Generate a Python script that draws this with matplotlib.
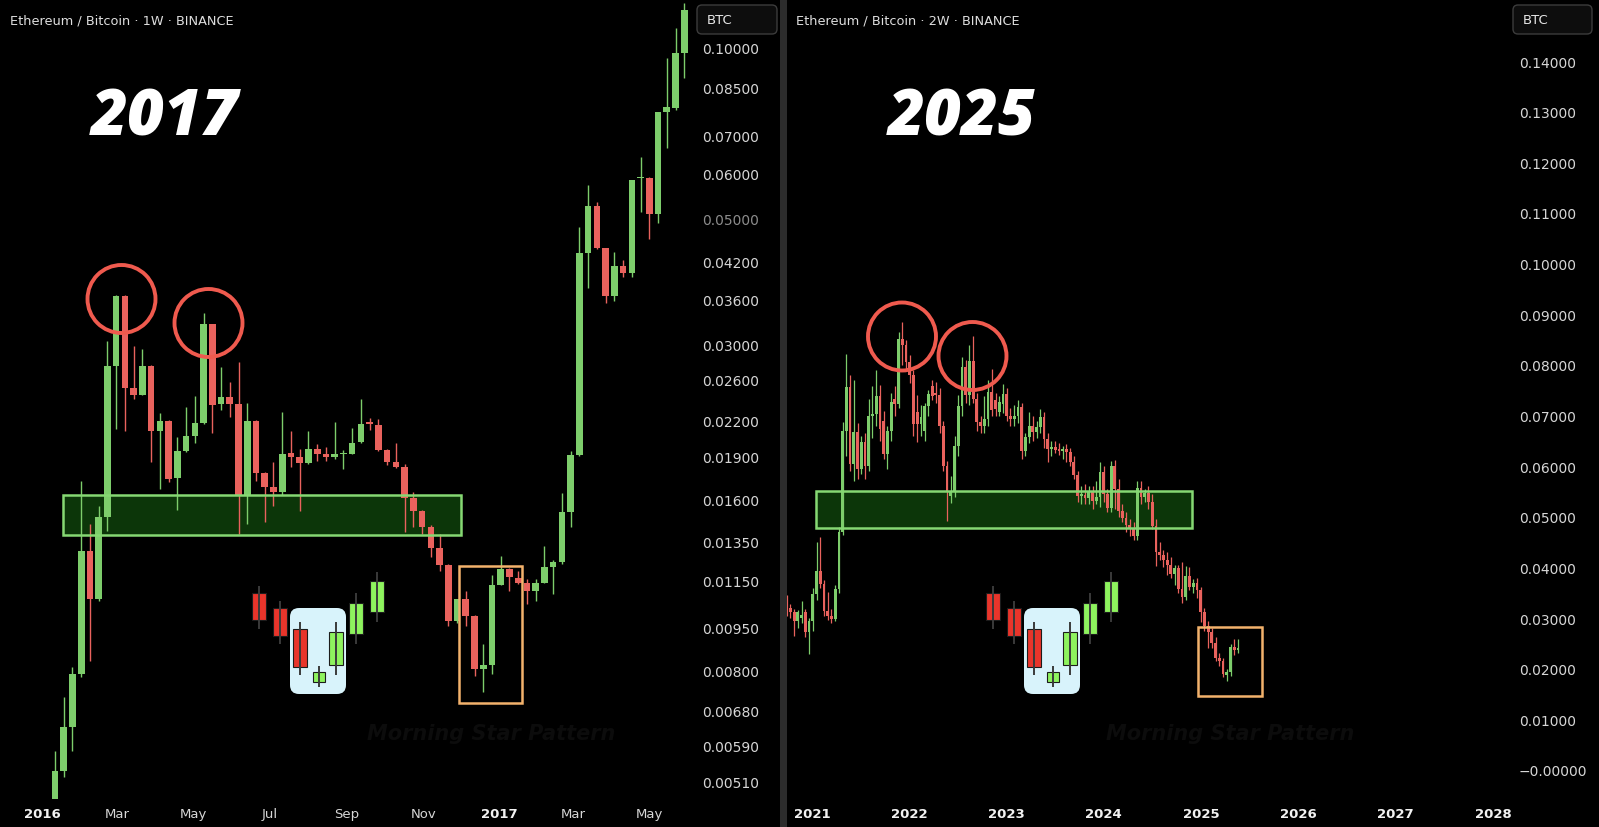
import numpy as np
import pandas as pd
import matplotlib
matplotlib.use("Agg")
import matplotlib.pyplot as plt
import matplotlib.dates as mdates
from matplotlib.patches import Rectangle, FancyBboxPatch, Circle
from matplotlib.ticker import NullLocator

plt.rcParams['font.family'] = ['DejaVu Sans']

# ---------------- LEFT: ETH/BTC 1W (2016-2017), log price scale ----------------
L_START = "2016-01-11"
L_open = [0.00470, 0.00531, 0.00635, 0.00787, 0.01297, 0.01069, 0.01487, 0.02752, 0.03644, 0.02517,
          0.02447, 0.02752, 0.02113, 0.02200, 0.01742, 0.01947, 0.02071, 0.02183, 0.03253, 0.02357,
          0.02425, 0.02357, 0.01620, 0.02200, 0.01781, 0.01680, 0.01646, 0.01931, 0.01900, 0.01854,
          0.01963, 0.01923, 0.01900, 0.01923, 0.01923, 0.02020, 0.02191, 0.02165, 0.01955, 0.01862,
          0.01826, 0.01606, 0.01524, 0.01432, 0.01312, 0.01227, 0.00977, 0.01069, 0.00997, 0.00803,
          0.00816, 0.01131, 0.01207, 0.01165, 0.01141, 0.01104, 0.01141, 0.01217, 0.01242, 0.01518,
          0.01916, 0.04339, 0.05250, 0.04427, 0.03644, 0.04116, 0.04000, 0.05880, 0.05880, 0.05082,
          0.07684, 0.07815, 0.09760]
L_high = [0.00576, 0.00717, 0.00810, 0.01721, 0.01446, 0.01555, 0.03037, 0.03670, 0.03660, 0.02976,
          0.02940, 0.02760, 0.02272, 0.02210, 0.02060, 0.02329, 0.02437, 0.03402, 0.03260, 0.02741,
          0.02579, 0.02797, 0.02367, 0.02210, 0.01790, 0.01862, 0.02282, 0.02113, 0.01963, 0.02113,
          0.02003, 0.01978, 0.02190, 0.01955, 0.02138, 0.02408, 0.02227, 0.02218, 0.01960, 0.02013,
          0.01850, 0.01646, 0.01530, 0.01440, 0.01389, 0.01230, 0.01070, 0.01104, 0.01000, 0.00889,
          0.01178, 0.01270, 0.01210, 0.01198, 0.01159, 0.01160, 0.01323, 0.01250, 0.01639, 0.01947,
          0.04821, 0.05715, 0.05340, 0.04430, 0.04357, 0.04217, 0.05840, 0.06402, 0.05900, 0.07700,
          0.09564, 0.10800, 0.11950]
L_low = [0.00460, 0.00520, 0.00576, 0.00778, 0.00830, 0.01060, 0.01406, 0.02130, 0.02110, 0.02408,
         0.02440, 0.01862, 0.01666, 0.01720, 0.01530, 0.01940, 0.02013, 0.02170, 0.02090, 0.02298,
         0.02236, 0.01389, 0.01446, 0.01721, 0.01458, 0.01555, 0.01630, 0.01826, 0.01524, 0.01850,
         0.01870, 0.01870, 0.01885, 0.01811, 0.01920, 0.02010, 0.02121, 0.01950, 0.01839, 0.01818,
         0.01400, 0.01429, 0.01389, 0.01265, 0.01198, 0.00958, 0.00970, 0.00958, 0.00781, 0.00734,
         0.00787, 0.01130, 0.01104, 0.01137, 0.01048, 0.01060, 0.01140, 0.01091, 0.01230, 0.01432,
         0.01910, 0.03764, 0.04420, 0.03550, 0.03570, 0.03940, 0.03940, 0.05123, 0.04592, 0.04900,
         0.06641, 0.07750, 0.08820]
L_close = [0.00531, 0.00635, 0.00787, 0.01297, 0.01069, 0.01487, 0.02752, 0.03644, 0.02517, 0.02447,
           0.02752, 0.02113, 0.02200, 0.01735, 0.01947, 0.02071, 0.02183, 0.03253, 0.02347, 0.02425,
           0.02357, 0.01620, 0.02200, 0.01781, 0.01680, 0.01646, 0.01923, 0.01900, 0.01854, 0.01963,
           0.01923, 0.01900, 0.01923, 0.01931, 0.02013, 0.02173, 0.02173, 0.01955, 0.01862, 0.01826,
           0.01606, 0.01524, 0.01432, 0.01312, 0.01227, 0.00977, 0.01069, 0.00997, 0.00803, 0.00816,
           0.01131, 0.01207, 0.01169, 0.01141, 0.01104, 0.01141, 0.01217, 0.01242, 0.01518, 0.01916,
           0.04339, 0.05250, 0.04427, 0.03644, 0.04116, 0.04000, 0.05832, 0.05900, 0.05082, 0.07684,
           0.07847, 0.09760, 0.11620]
L_yticks = [0.1, 0.085, 0.07, 0.06, 0.05, 0.042, 0.036, 0.03, 0.026, 0.022, 0.019,
            0.016, 0.0135, 0.0115, 0.0095, 0.008, 0.0068, 0.0059, 0.0051]
L_xtick_dates = ["2016-01-01", "2016-03-01", "2016-05-01", "2016-07-01", "2016-09-01",
                 "2016-11-01", "2017-01-01", "2017-03-01", "2017-05-01"]
L_xtick_labels = ["2016", "Mar", "May", "Jul", "Sep", "Nov", "2017", "Mar", "May"]
L_zone = (0.01385, 0.01628)      # support zone (price)
L_box = (0.00700, 0.01220)       # highlighted pattern box (price)

# ---------------- RIGHT: ETH/BTC 2W (2020-2025), linear price scale ----------------
R_START = "2020-09-28"
R_open = [0.0334, 0.0320, 0.0312, 0.0294, 0.0300, 0.0312, 0.0273, 0.0294, 0.0348, 0.0393,
          0.0367, 0.0314, 0.0305, 0.0298, 0.0357, 0.0470, 0.0670, 0.0756, 0.0604, 0.0667,
          0.0594, 0.0648, 0.0600, 0.0699, 0.0703, 0.0739, 0.0690, 0.0624, 0.0669, 0.0733,
          0.0722, 0.0851, 0.0840, 0.0806, 0.0780, 0.0707, 0.0683, 0.0669, 0.0719, 0.0758,
          0.0745, 0.0740, 0.0680, 0.0600, 0.0541, 0.0549, 0.0640, 0.0719, 0.0796, 0.0740,
          0.0808, 0.0733, 0.0687, 0.0680, 0.0693, 0.0747, 0.0730, 0.0707, 0.0722, 0.0742,
          0.0700, 0.0693, 0.0700, 0.0716, 0.0630, 0.0657, 0.0680, 0.0667, 0.0677, 0.0697,
          0.0654, 0.0634, 0.0637, 0.0632, 0.0629, 0.0634, 0.0628, 0.0608, 0.0582, 0.0541,
          0.0543, 0.0537, 0.0548, 0.0532, 0.0540, 0.0589, 0.0545, 0.0517, 0.0600, 0.0555,
          0.0512, 0.0497, 0.0483, 0.0478, 0.0462, 0.0557, 0.0539, 0.0547, 0.0530, 0.0482,
          0.0430, 0.0425, 0.0415, 0.0405, 0.0388, 0.0398, 0.0358, 0.0342, 0.0383, 0.0362,
          0.0370, 0.0355, 0.0312, 0.0285, 0.0272, 0.0250, 0.0222, 0.0215, 0.0188, 0.0193,
          0.0243, 0.0236]
R_high = [0.0345, 0.0328, 0.0318, 0.0315, 0.0334, 0.0318, 0.0300, 0.0360, 0.0450, 0.0460,
          0.0375, 0.0352, 0.0318, 0.0365, 0.0480, 0.0687, 0.0821, 0.0780, 0.0770, 0.0685,
          0.0660, 0.0665, 0.0733, 0.0758, 0.0790, 0.0760, 0.0709, 0.0680, 0.0745, 0.0758,
          0.0865, 0.0885, 0.0850, 0.0820, 0.0790, 0.0740, 0.0720, 0.0725, 0.0750, 0.0770,
          0.0766, 0.0755, 0.0690, 0.0610, 0.0580, 0.0660, 0.0740, 0.0815, 0.0810, 0.0840,
          0.0857, 0.0745, 0.0700, 0.0739, 0.0770, 0.0792, 0.0745, 0.0738, 0.0762, 0.0755,
          0.0715, 0.0720, 0.0730, 0.0725, 0.0665, 0.0707, 0.0700, 0.0690, 0.0712, 0.0707,
          0.0665, 0.0650, 0.0650, 0.0645, 0.0640, 0.0644, 0.0635, 0.0620, 0.0590, 0.0560,
          0.0565, 0.0560, 0.0560, 0.0570, 0.0608, 0.0600, 0.0555, 0.0610, 0.0612, 0.0575,
          0.0525, 0.0510, 0.0495, 0.0490, 0.0571, 0.0570, 0.0555, 0.0560, 0.0545, 0.0496,
          0.0450, 0.0435, 0.0430, 0.0420, 0.0405, 0.0405, 0.0410, 0.0403, 0.0401, 0.0378,
          0.0380, 0.0362, 0.0320, 0.0295, 0.0280, 0.0262, 0.0232, 0.0222, 0.0200, 0.0248,
          0.0259, 0.0258]
R_low = [0.0305, 0.0300, 0.0265, 0.0280, 0.0290, 0.0262, 0.0229, 0.0275, 0.0335, 0.0360,
         0.0305, 0.0296, 0.0290, 0.0295, 0.0350, 0.0465, 0.0620, 0.0590, 0.0570, 0.0575,
         0.0585, 0.0575, 0.0590, 0.0655, 0.0680, 0.0650, 0.0615, 0.0595, 0.0650, 0.0700,
         0.0715, 0.0800, 0.0790, 0.0765, 0.0660, 0.0648, 0.0660, 0.0650, 0.0700, 0.0730,
         0.0725, 0.0665, 0.0590, 0.0492, 0.0528, 0.0540, 0.0620, 0.0700, 0.0725, 0.0720,
         0.0725, 0.0670, 0.0665, 0.0665, 0.0680, 0.0700, 0.0700, 0.0700, 0.0705, 0.0690,
         0.0679, 0.0680, 0.0685, 0.0615, 0.0620, 0.0645, 0.0650, 0.0655, 0.0665, 0.0635,
         0.0608, 0.0620, 0.0625, 0.0622, 0.0615, 0.0608, 0.0600, 0.0575, 0.0530, 0.0525,
         0.0525, 0.0525, 0.0515, 0.0525, 0.0520, 0.0530, 0.0510, 0.0510, 0.0515, 0.0500,
         0.0490, 0.0470, 0.0462, 0.0455, 0.0455, 0.0525, 0.0530, 0.0515, 0.0475, 0.0403,
         0.0415, 0.0400, 0.0385, 0.0380, 0.0365, 0.0350, 0.0330, 0.0335, 0.0355, 0.0350,
         0.0340, 0.0292, 0.0275, 0.0240, 0.0240, 0.0215, 0.0205, 0.0184, 0.0176, 0.0185,
         0.0228, 0.0232]
R_close = [0.0320, 0.0312, 0.0294, 0.0312, 0.0306, 0.0273, 0.0294, 0.0348, 0.0393, 0.0367,
           0.0314, 0.0305, 0.0298, 0.0357, 0.0470, 0.0670, 0.0756, 0.0604, 0.0667, 0.0594,
           0.0648, 0.0600, 0.0699, 0.0703, 0.0739, 0.0673, 0.0624, 0.0669, 0.0727, 0.0722,
           0.0851, 0.0840, 0.0806, 0.0780, 0.0683, 0.0683, 0.0697, 0.0719, 0.0742, 0.0739,
           0.0740, 0.0680, 0.0600, 0.0549, 0.0549, 0.0640, 0.0719, 0.0796, 0.0740, 0.0808,
           0.0733, 0.0687, 0.0680, 0.0693, 0.0747, 0.0710, 0.0713, 0.0727, 0.0742, 0.0700,
           0.0693, 0.0700, 0.0716, 0.0630, 0.0657, 0.0680, 0.0667, 0.0677, 0.0697, 0.0654,
           0.0634, 0.0637, 0.0632, 0.0629, 0.0634, 0.0628, 0.0608, 0.0582, 0.0541, 0.0543,
           0.0537, 0.0548, 0.0532, 0.0540, 0.0589, 0.0545, 0.0517, 0.0600, 0.0555, 0.0512,
           0.0497, 0.0483, 0.0478, 0.0462, 0.0557, 0.0539, 0.0547, 0.0530, 0.0482, 0.0430,
           0.0425, 0.0415, 0.0405, 0.0388, 0.0398, 0.0358, 0.0342, 0.0383, 0.0362, 0.0370,
           0.0355, 0.0312, 0.0285, 0.0272, 0.0250, 0.0222, 0.0215, 0.0190, 0.0193, 0.0243,
           0.0236, 0.0238]
R_yticks = [0.00, 0.01, 0.02, 0.03, 0.04, 0.05, 0.06, 0.07, 0.08, 0.09, 0.10, 0.11, 0.12, 0.13, 0.14]
R_xtick_dates = ["2021-01-01", "2022-01-01", "2023-01-01", "2024-01-01",
                 "2025-01-01", "2026-01-01", "2027-01-01", "2028-01-01"]
R_xtick_labels = ["2021", "2022", "2023", "2024", "2025", "2026", "2027", "2028"]
R_zone = (0.0478, 0.0551)
R_box = (0.0146, 0.0282)

# ---------------- figure ----------------
W, H = 1599, 828
fig = plt.figure(figsize=(W / 100, H / 100), dpi=100)
fig.patch.set_facecolor("black")

UP = "#7dcd6b"
DN = "#e9625d"


def frac(x0, x1, y0, y1):
    return [x0 / W, 1 - y1 / H, (x1 - x0) / W, (y1 - y0) / H]


def draw_candles(ax, dates, o, h, l, c, width, wick_lw, log):
    x = mdates.date2num(dates)
    o = np.asarray(o); h = np.asarray(h); l = np.asarray(l); c = np.asarray(c)
    cols = np.where(c >= o, UP, DN)
    ax.vlines(x, l, h, colors=cols, linewidth=wick_lw, zorder=3)
    bot = np.minimum(o, c)
    top = np.maximum(o, c)
    top = np.maximum(top, bot * 1.004) if log else np.maximum(top, bot + 0.0004)
    ax.bar(x, top - bot, bottom=bot, width=width, color=cols, linewidth=0, zorder=4)


def style_axis(ax):
    ax.set_facecolor("black")
    for s in ax.spines.values():
        s.set_visible(False)
    ax.yaxis.tick_right()
    ax.tick_params(axis="y", which="both", length=0, pad=5, labelsize=10, labelcolor="#d6d6d6")
    ax.tick_params(axis="x", which="both", length=0, pad=6, labelsize=9.5, labelcolor="#d6d6d6")


# Left panel
axL = fig.add_axes(frac(0, 695, 0, 800))
style_axis(axL)
axL.set_yscale("log")
l0 = mdates.date2num(pd.Timestamp(L_START))
axL.set_xlim(l0 - 44.05, l0 + 512.6)
axL.set_ylim(0.004749, 0.12164)
L_dates = pd.date_range(L_START, periods=len(L_open), freq="7D")
draw_candles(axL, L_dates, L_open, L_high, L_low, L_close, 5.3, 1.0, True)
axL.set_yticks(L_yticks, labels=[f"{v:.5f}" for v in L_yticks])
axL.yaxis.set_minor_locator(NullLocator())
for t, v in zip(axL.get_yticklabels(), L_yticks):
    if v == 0.05:
        t.set_color("#8c8c8c")
axL.set_xticks(mdates.date2num(pd.to_datetime(L_xtick_dates)), labels=L_xtick_labels)
for t in axL.get_xticklabels():
    if t.get_text().isdigit():
        t.set_fontweight("bold")
        t.set_color("#f2f2f2")
# support zone + pattern box
zx0 = l0 + 6.4
zx1 = l0 + 325.2
axL.add_patch(Rectangle((zx0, L_zone[0]), zx1 - zx0, L_zone[1] - L_zone[0],
                        facecolor="#0c3609", edgecolor="none", zorder=2))
axL.add_patch(Rectangle((zx0, L_zone[0]), zx1 - zx0, L_zone[1] - L_zone[0],
                        facecolor="none", edgecolor="#86d873", lw=1.8, zorder=5))
bx0 = l0 + 323.6
bx1 = l0 + 374.0
axL.add_patch(Rectangle((bx0, L_box[0]), bx1 - bx0, L_box[1] - L_box[0],
                        facecolor="none", edgecolor="#f3b26c", lw=1.8, zorder=5))

# Right panel
axR = fig.add_axes(frac(787, 1512, 0, 800))
style_axis(axR)
r0 = mdates.date2num(pd.Timestamp("2021-01-01"))
axR.set_xlim(r0 - 93.85, r0 + 2627.7)
axR.set_ylim(-0.00573, 0.15225)
R_dates = pd.date_range(R_START, periods=len(R_open), freq="14D")
draw_candles(axR, R_dates, R_open, R_high, R_low, R_close, 10.5, 0.9, False)
axR.set_yticks(R_yticks, labels=[("\u2212" if v == 0 else "") + f"{v:.5f}" for v in R_yticks])
axR.set_xticks(mdates.date2num(pd.to_datetime(R_xtick_dates)), labels=R_xtick_labels)
for t in axR.get_xticklabels():
    t.set_fontweight("bold")
    t.set_color("#f2f2f2")
rz0 = r0 + 15
rz1 = r0 + 1426.5
axR.add_patch(Rectangle((rz0, R_zone[0]), rz1 - rz0, R_zone[1] - R_zone[0],
                        facecolor="#0c3609", edgecolor="none", zorder=2))
axR.add_patch(Rectangle((rz0, R_zone[0]), rz1 - rz0, R_zone[1] - R_zone[0],
                        facecolor="none", edgecolor="#86d873", lw=1.8, zorder=5))
rb0 = r0 + 1449
rb1 = r0 + 1689.2
axR.add_patch(Rectangle((rb0, R_box[0]), rb1 - rb0, R_box[1] - R_box[0],
                        facecolor="none", edgecolor="#f3b26c", lw=1.8, zorder=5))

# ---------------- overlay (pixel coordinates) ----------------
ov = fig.add_axes([0, 0, 1, 1], zorder=10)
ov.set_xlim(0, W)
ov.set_ylim(H, 0)
ov.axis("off")
ov.patch.set_alpha(0)

# divider between the two charts
ov.add_patch(Rectangle((780, 0), 7, H, facecolor="#2c2c2c", edgecolor="none"))

# headers
ov.text(10, 21, "Ethereum / Bitcoin \u00b7 1W \u00b7 BINANCE", fontsize=9.3, color="#dedede", va="center")
ov.text(796, 21, "Ethereum / Bitcoin \u00b7 2W \u00b7 BINANCE", fontsize=9.3, color="#dedede", va="center")
for bx, bw in [(697, 80), (1513, 79)]:
    ov.add_patch(FancyBboxPatch((bx, 6), bw, 29, boxstyle="round,pad=0,rounding_size=5",
                                facecolor="#0d0d0d", edgecolor="#3c3c3c", lw=1))
    ov.text(bx + 10, 21, "BTC", fontsize=9.5, color="#e6e6e6", va="center")

# big year labels
for xx, txt in [(91, "2017"), (888, "2025")]:
    ov.text(xx, 135, txt, fontsize=46, color="white", fontfamily=["Open Sans", "DejaVu Sans"],
            fontweight=800, fontstyle="italic", va="baseline", ha="left")

# red circles marking the double top
for cx, cy in [(121.5, 300), (208.5, 324), (902, 337.5), (972.5, 357)]:
    ov.add_patch(Circle((cx, cy), 34, facecolor="none", edgecolor="#ef5a4e", lw=2.8))

# morning star illustrations
RED_I = "#e8352b"
GRN_I = "#8ef35e"


def morning_star(dx):
    ov.add_patch(FancyBboxPatch((290 + dx + 6, 609 + 6), 56 - 12, 86 - 12,
                                boxstyle="round,pad=6,rounding_size=9",
                                facecolor="#d8f3fb", edgecolor="none"))
    spec = [(259, 594, 621, 587, 630, RED_I, 14), (279.5, 609, 637, 602, 645, RED_I, 14),
            (299.5, 630, 668, 623, 676, RED_I, 14), (318.5, 673, 683, 667, 688, GRN_I, 12),
            (336, 633, 666, 623, 676, GRN_I, 14), (356, 604, 635, 594, 645, GRN_I, 14),
            (376.5, 582, 613, 573, 623, GRN_I, 14)]
    for cx, bt, bb, wt, wb, col, w in spec:
        ov.plot([cx + dx, cx + dx], [wt, wb], color="#3a3a3a", lw=1.4, solid_capstyle="butt")
        ov.add_patch(Rectangle((cx + dx - w / 2, bt), w, bb - bt, facecolor=col,
                               edgecolor="#1c1c1c", lw=0.8))


morning_star(0)
morning_star(734)

# faint caption
for xx in [367, 1106]:
    ov.text(xx, 740, "Morning Star Pattern", fontsize=15, color="#0c0c0c",
            fontweight="bold", fontstyle="italic", va="baseline", ha="left")

fig.savefig("out.png", dpi=100, facecolor="black")
